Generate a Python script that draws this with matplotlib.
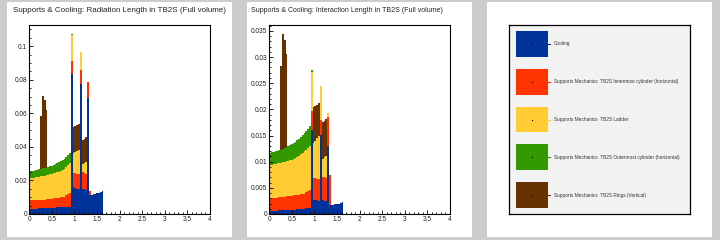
# plot.py -- stacked material budget for TB2S supports & cooling
import numpy as np
import matplotlib
matplotlib.use("Agg")
import matplotlib.pyplot as plt
from matplotlib.patches import Rectangle
from matplotlib.ticker import MultipleLocator, FormatStrFormatter

plt.rcParams["font.family"] = ["Liberation Sans", "DejaVu Sans"]

# ── 0. Data (eta bins of 0.04 from 0 to 1.64) ──────────────────────────
eta_edges = np.linspace(0.0, 1.64, 42)

labels = [
    "Cooling",
    "Supports Mechanics  TB2S Innermost cylinder (horizontal)",
    "Supports Mechanics  TB2S Ladder",
    "Supports Mechanics  TB2S Outermost cylinder (horizontal)",
    "Supports Mechanics  TB2S Rings (Vertical)",
]
colors = ["#003399", "#ff3300", "#ffcc33", "#339900", "#663300"]

# radiation length, per component
x0_cooling = [
    0.0028, 0.0028, 0.0028, 0.0028, 0.0028, 0.0033, 0.0033, 0.0033, 0.0033, 0.0033,
    0.0033, 0.0033, 0.0033, 0.0033, 0.0033, 0.0040, 0.0040, 0.0041, 0.0042, 0.0042,
    0.0043, 0.0044, 0.0044, 0.0835, 0.0158, 0.0155, 0.0152, 0.0150, 0.0775, 0.0150,
    0.0148, 0.0145, 0.0690, 0.0113, 0.0113, 0.0117, 0.0120, 0.0124, 0.0128, 0.0133,
    0.0137,
]
x0_inner = [
    0.0055, 0.0055, 0.0055, 0.0055, 0.0055, 0.0053, 0.0053, 0.0053, 0.0053, 0.0056,
    0.0056, 0.0056, 0.0056, 0.0062, 0.0062, 0.0055, 0.0055, 0.0062, 0.0061, 0.0061,
    0.0069, 0.0074, 0.0079, 0.0075, 0.0087, 0.0088, 0.0088, 0.0088, 0.0085, 0.0100,
    0.0097, 0.0095, 0.0097, 0.0027, 0, 0, 0, 0, 0, 0,
    0,
]
x0_ladder = [
    0.0130, 0.0132, 0.0134, 0.0136, 0.0138, 0.0137, 0.0139, 0.0141, 0.0143, 0.0142,
    0.0144, 0.0147, 0.0150, 0.0147, 0.0150, 0.0154, 0.0158, 0.0155, 0.0160, 0.0167,
    0.0168, 0.0174, 0.0182, 0.0155, 0.0120, 0.0127, 0.0135, 0.0142, 0.0108, 0.0050,
    0.0060, 0.0070, 0, 0, 0, 0, 0, 0, 0, 0,
    0,
]
x0_outer = [
    0.0042, 0.0042, 0.0042, 0.0042, 0.0042, 0.0043, 0.0044, 0.0045, 0.0046, 0.0047,
    0.0048, 0.0049, 0.0050, 0.0051, 0.0052, 0.0053, 0.0054, 0.0055, 0.0056, 0.0056,
    0.0060, 0.0060, 0.0061, 0.0008, 0, 0, 0, 0, 0, 0,
    0, 0, 0, 0, 0, 0, 0, 0, 0, 0,
    0,
]
x0_rings = [
    0, 0, 0, 0, 0, 0, 0.0315, 0.0433, 0.0405, 0.0342,
    0, 0, 0, 0, 0, 0, 0, 0, 0, 0,
    0, 0, 0, 0, 0.0155, 0.0155, 0.0155, 0.0157, 0, 0.0140,
    0.0145, 0.0148, 0, 0, 0, 0, 0, 0, 0, 0,
    0,
]

# interaction length, per component
l0_cooling = [
    0.0006, 0.0006, 0.0006, 0.0006, 0.0006, 0.0007, 0.0007, 0.0007, 0.0007, 0.0007,
    0.0007, 0.0007, 0.0007, 0.0007, 0.0007, 0.0009, 0.0009, 0.0010, 0.0010, 0.0010,
    0.0011, 0.0011, 0.0011, 0.0160, 0.0027, 0.0026, 0.0026, 0.0025, 0.0151, 0.0026,
    0.0025, 0.0024, 0.0130, 0.0018, 0.0018, 0.0018, 0.0019, 0.0020, 0.0020, 0.0021,
    0.0022,
]
l0_inner = [
    0.0024, 0.0024, 0.0024, 0.0024, 0.0024, 0.0025, 0.0025, 0.0025, 0.0025, 0.0027,
    0.0027, 0.0027, 0.0027, 0.0029, 0.0029, 0.0027, 0.0027, 0.0029, 0.0029, 0.0029,
    0.0031, 0.0033, 0.0035, 0.0037, 0.0041, 0.0042, 0.0041, 0.0042, 0.0029, 0.0044,
    0.0045, 0.0045, 0.0056, 0.0057, 0, 0, 0, 0, 0, 0,
    0,
]
l0_ladder = [
    0.0063, 0.0064, 0.0065, 0.0066, 0.0067, 0.0065, 0.0066, 0.0067, 0.0068, 0.0067,
    0.0068, 0.0069, 0.0070, 0.0070, 0.0071, 0.0073, 0.0075, 0.0075, 0.0078, 0.0081,
    0.0081, 0.0082, 0.0084, 0.0074, 0.0067, 0.0072, 0.0078, 0.0083, 0.0065, 0.0035,
    0.0038, 0.0042, 0.0007, 0, 0, 0, 0, 0, 0, 0,
    0,
]
l0_outer = [
    0.0024, 0.0024, 0.0024, 0.0024, 0.0024, 0.0025, 0.0025, 0.0025, 0.0026, 0.0027,
    0.0028, 0.0029, 0.0030, 0.0030, 0.0031, 0.0032, 0.0033, 0.0033, 0.0034, 0.0035,
    0.0036, 0.0037, 0.0038, 0.0004, 0, 0, 0, 0, 0, 0,
    0, 0, 0, 0, 0, 0, 0, 0, 0, 0,
    0,
]
l0_rings = [
    0, 0, 0, 0, 0, 0, 0.0160, 0.0220, 0.0206, 0.0177,
    0, 0, 0, 0, 0, 0, 0, 0, 0, 0,
    0, 0, 0, 0, 0.0069, 0.0067, 0.0064, 0.0062, 0, 0.0070,
    0.0070, 0.0071, 0, 0, 0, 0, 0, 0, 0, 0,
    0,
]

titles = [
    "Supports & Cooling: Radiation Length in TB2S (Full volume)",
    "Supports & Cooling: Interaction Length in TB2S (Full volume)",
]

W, H = 720, 240
BG = "#cccccc"


def fx(px):
    return px / W


def fy(py):
    return 1 - py / H


def draw_stack(ax, series, y_major, y_minor):
    bottom = np.zeros(len(eta_edges) - 1)
    for vals, c in zip(series, colors):
        top = bottom + np.asarray(vals)
        ax.stairs(top, eta_edges, baseline=bottom, fill=True, color=c, lw=0)
        bottom = top
    ax.set_xlim(0, 4)
    ax.set_ylim(0, bottom.max() * 1.05)
    ax.xaxis.set_major_locator(MultipleLocator(0.5))
    ax.xaxis.set_minor_locator(MultipleLocator(0.1))
    ax.yaxis.set_major_locator(MultipleLocator(y_major))
    ax.yaxis.set_minor_locator(MultipleLocator(y_minor))
    ax.xaxis.set_major_formatter(FormatStrFormatter("%g"))
    ax.yaxis.set_major_formatter(FormatStrFormatter("%g"))
    ax.tick_params(which="both", direction="in", labelsize=4.7,
                   colors="black", labelcolor="#222222", width=0.6)
    ax.tick_params(which="major", length=3.2, pad=1.5)
    ax.tick_params(which="minor", length=1.6)
    for s in ax.spines.values():
        s.set_linewidth(0.8)


def main() -> None:
    fig = plt.figure(figsize=(7.2, 2.4), dpi=100, facecolor=BG)

    # ── 1. White pads on grey canvas ───────────────────────────────────
    for left in (7.3, 247.3, 487.3):
        pad = fig.add_axes([fx(left), fy(236.7), fx(224.4), 235 / H])
        pad.set_facecolor("white")
        pad.set_xticks([])
        pad.set_yticks([])
        for s in pad.spines.values():
            s.set_visible(False)

    # ── 2. The two stacked histograms ─────────────────────────────────
    ax1 = fig.add_axes([fx(29.3), fy(214), fx(180.7), 189 / H])
    draw_stack(ax1, [x0_cooling, x0_inner, x0_ladder, x0_outer, x0_rings],
               0.02, 0.005)
    ax2 = fig.add_axes([fx(269.3), fy(214), fx(180.7), 189 / H])
    draw_stack(ax2, [l0_cooling, l0_inner, l0_ladder, l0_outer, l0_rings],
               0.005, 0.001)

    fig.text(fx(13), fy(11), titles[0], fontsize=5.8, va="center",
             color="#222222")
    fig.text(fx(251), fy(11), titles[1], fontsize=5.0, va="center",
             color="#222222")

    # ── 3. Legend pad ─────────────────────────────────────────────────
    ax3 = fig.add_axes([fx(509.3), fy(214), fx(180.7), 189 / H])
    ax3.set_facecolor("#f2f2f2")
    ax3.set_xlim(0, 1)
    ax3.set_ylim(0, 1)
    ax3.set_xticks([])
    ax3.set_yticks([])
    for s in ax3.spines.values():
        s.set_linewidth(0.9)
    for k, (lab, c) in enumerate(zip(labels, colors)):
        yc = 0.9 - 0.2 * k
        ax3.add_patch(Rectangle((0.037, yc - 0.068), 0.177, 0.136,
                                facecolor=c, edgecolor="none"))
        ax3.plot([0.214, 0.224], [yc, yc], color=c, lw=0.8)
        ax3.plot(0.125, yc, marker="s", ms=0.8, color="black", mew=0)
        ax3.text(0.247, yc, lab, fontsize=3.45, va="center", color="#333333")

    fig.savefig("out.png", dpi=100, facecolor=BG)


if __name__ == "__main__":
    main()
